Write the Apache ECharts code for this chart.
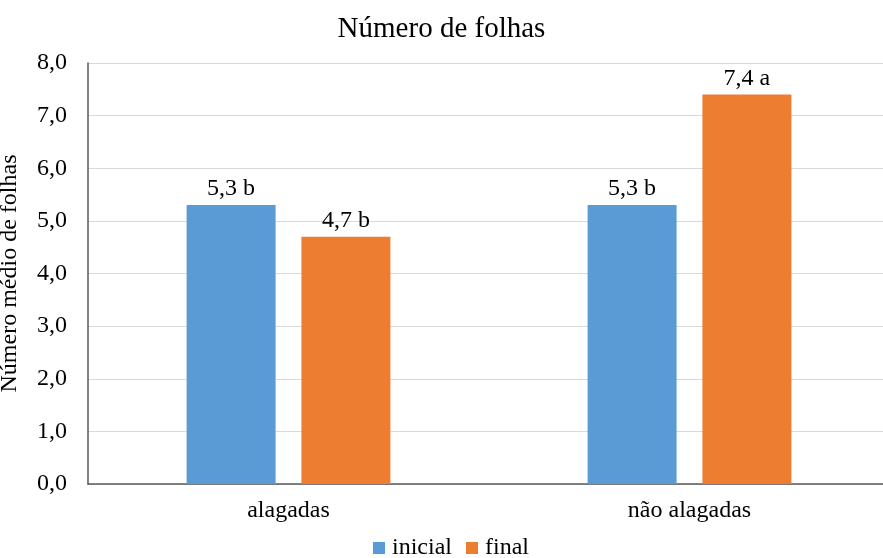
<!DOCTYPE html>
<html>
<head>
<meta charset="utf-8">
<script src="https://cdn.jsdelivr.net/npm/echarts@6/dist/echarts.min.js"></script>
<style>
html,body{margin:0;padding:0;background:#fff;}
#chart{width:883px;height:558px;}
</style>
</head>
<body>
<div id="chart"></div>
<script>
// Leaf count data per treatment
const categories = ['alagadas', 'não alagadas'];
const seriesNames = ['inicial', 'final'];
const inicialValues = [5.3, 5.3];
const finalValues = [4.7, 7.4];
const inicialLetters = ['b', 'b'];
const finalLetters = ['b', 'a'];
const yTicks = [0, 1, 2, 3, 4, 5, 6, 7, 8];

const FONT = 'Liberation Serif';
const fmt = v => v.toFixed(1).replace('.', ',');

function labelFor(letters) {
  return {
    show: true,
    position: 'top',
    distance: 4,
    color: '#000',
    fontFamily: FONT,
    fontSize: 24,
    formatter: p => fmt(p.value) + ' ' + letters[p.dataIndex]
  };
}

const chart = echarts.init(document.getElementById('chart'), null, {renderer: 'canvas'});
chart.setOption({
  animation: false,
  backgroundColor: '#fff',
  textStyle: {fontFamily: FONT},
  title: {
    text: 'Número de folhas',
    left: 'center',
    top: 10,
    textStyle: {fontFamily: FONT, fontSize: 29, fontWeight: 'normal', color: '#000'}
  },
  legend: {
    data: seriesNames,
    bottom: -7,
    left: 368,
    itemWidth: 12,
    itemHeight: 12,
    itemGap: 14,
    icon: 'rect',
    textStyle: {fontFamily: FONT, fontSize: 24, color: '#000', padding: [0, 0, 0, 2]}
  },
  grid: {left: 88, top: 63, width: 802, height: 421, containLabel: false, outerBoundsMode: 'none'},
  xAxis: {
    type: 'category',
    data: categories,
    axisTick: {show: false},
    axisLine: {lineStyle: {color: '#595959', width: 1.5}},
    axisLabel: {fontFamily: FONT, fontSize: 24, color: '#000', margin: 15}
  },
  yAxis: {
    type: 'value',
    min: yTicks[0],
    max: yTicks[yTicks.length - 1],
    interval: 1,
    name: 'Número médio de folhas',
    nameLocation: 'middle',
    nameGap: 66,
    nameTextStyle: {fontFamily: FONT, fontSize: 24, color: '#000'},
    axisLine: {show: true, lineStyle: {color: '#595959', width: 1.5}},
    axisTick: {show: false},
    axisLabel: {fontFamily: FONT, fontSize: 24, color: '#000', margin: 21, formatter: v => fmt(v)},
    splitLine: {lineStyle: {color: '#d9d9d9', width: 1}}
  },
  series: [
    {
      name: seriesNames[0],
      type: 'bar',
      data: inicialValues,
      barWidth: 89,
      barGap: '29%',
      itemStyle: {color: '#5b9bd5'},
      label: labelFor(inicialLetters)
    },
    {
      name: seriesNames[1],
      type: 'bar',
      data: finalValues,
      barWidth: 89,
      barGap: '29%',
      itemStyle: {color: '#ed7d31'},
      label: labelFor(finalLetters)
    }
  ]
});
</script>
</body>
</html>
